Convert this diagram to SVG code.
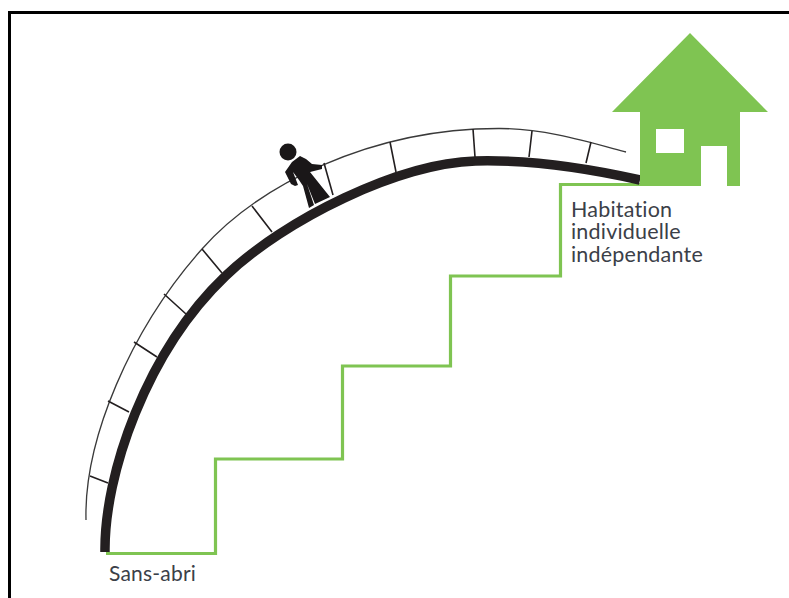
<svg xmlns="http://www.w3.org/2000/svg" width="789" height="598" viewBox="0 0 789 598">
<style>
.thin{fill:none;stroke:#3a3a3a;stroke-width:1.3}
.tick{fill:none;stroke:#231f20;stroke-width:1.6}
.thick{fill:none;stroke:#231f20;stroke-width:9.500}
.stair{fill:none;stroke:#7fc452;stroke-width:3.200}
.lbl{font-family:"Lato","Open Sans",sans-serif;font-size:21.500px;fill:#3b4048;font-variant-ligatures:none;letter-spacing:.2px}
.lbl2{font-size:21px}
</style>
<rect width="789" height="598" fill="#fff"/>
<path id="frame" d="M9.500 598V12.500H789" fill="none" stroke="#000" stroke-width="3"/>
<g id="connectors">
<path id="stairs" class="stair" d="M106 553.500H215.500V459H342.500V366H450.500V276H560.500V184.500H640"/>
<path id="thick-arc" class="thick" d="M105 552C104 475 146 352 225.500 276C285 219 400 163 475.500 161C510 160.100 560 162 640 180"/>
<path id="thin-arc" class="thin" d="M86 520C84 440 130 330 202 249C258 186 370 128 500 128.500C545 128.700 585 141 626 152"/>
<path id="ticks" class="tick" d="M90 476L108 483M108 401L129 412M134 342L157 357M164 294L186 314M202 249L222 273M252 206L272 232M324 163L333 195M390 142L396 172M473 129L475 157M532 131L529 157M591 142L586 163"/>
</g>
<g id="walker" fill="#1a1718" stroke="none">
<circle cx="288" cy="152" r="8.500"/>
<path d="M300 156L306 159L312 164L322 165L322 169L310 172L330 197L315 204L307 184L314 205L309 208L303 186L299 180L293 172L298 185L295 186L291 184L285 172L292 162Z"/>
</g>
<g id="house">
<path fill="#7fc452" d="M690 33L768 112H740V186H727V146H701V186H640V112H612Z"/>
<rect x="656" y="129" width="28" height="24" fill="#fff"/>
</g>
<g id="labels">
<text class="lbl" x="571" y="217">Habitation</text>
<text class="lbl" x="571" y="239">individuelle</text>
<text class="lbl" x="571" y="262">indépendante</text>
<text class="lbl lbl2" x="109" y="581">Sans-abri</text>
</g>
</svg>
